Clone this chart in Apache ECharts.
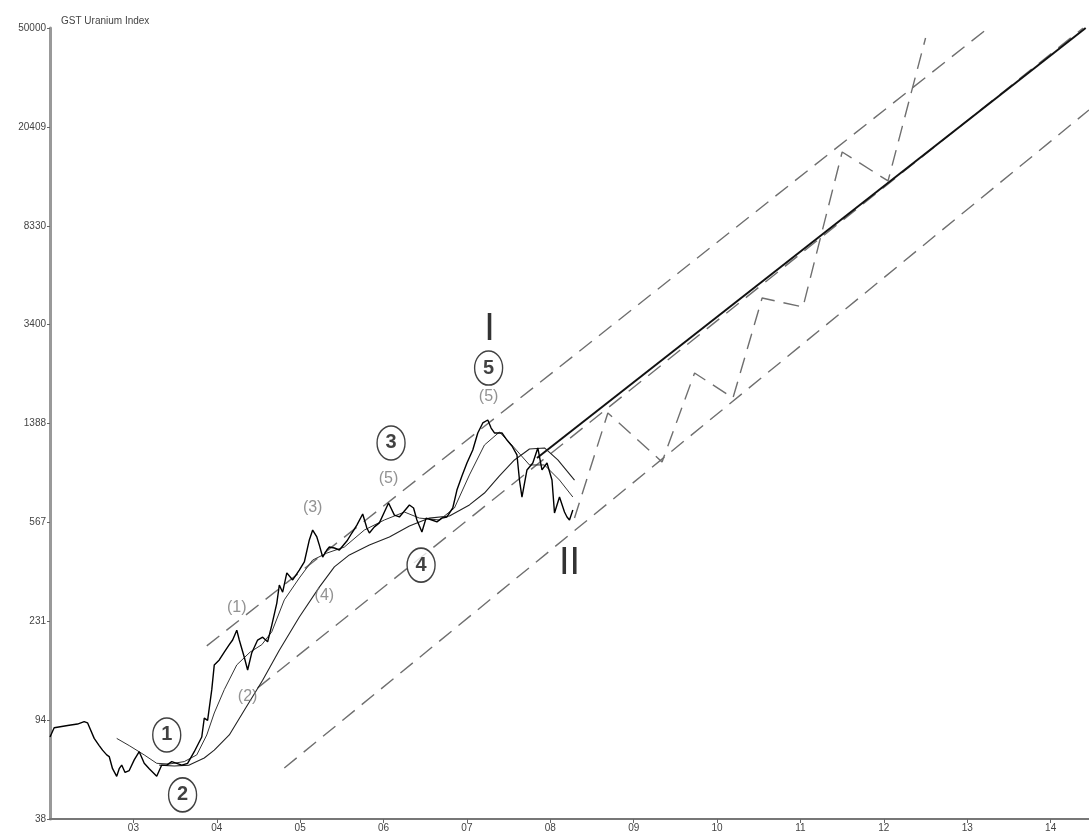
<!DOCTYPE html>
<html>
<head>
<meta charset="utf-8">
<title>GST Uranium Index</title>
<script src="https://cdn.jsdelivr.net/npm/echarts@6/dist/echarts.min.js"></script>
<style>
html, body { margin: 0; padding: 0; background: #fff; }
#chart { width: 1089px; height: 839px; }
</style>
</head>
<body>
<div id="chart"></div>
<script>
// y axis: log scale in 8 equal ratio steps, labels as printed
const yTickLabels = ['38', '94', '231', '567', '1388', '3400', '8330', '20409', '50000'];
const xTickYears = [2003, 2004, 2005, 2006, 2007, 2008, 2009, 2010, 2011, 2012, 2013, 2014];

// weekly index (year, value)
const priceData = [
    [2002.00, 80], [2002.05, 87], [2002.14, 88], [2002.23, 89], [2002.33, 90], [2002.41, 92],
    [2002.45, 91], [2002.53, 79], [2002.59, 74], [2002.63, 71], [2002.68, 68], [2002.71, 67],
    [2002.75, 60], [2002.80, 56], [2002.83, 60], [2002.86, 62], [2002.90, 58], [2002.95, 59],
    [2003.01, 65], [2003.07, 70], [2003.13, 63], [2003.19, 60], [2003.28, 56], [2003.34, 62],
    [2003.40, 62], [2003.46, 64], [2003.52, 63], [2003.58, 62], [2003.65, 63], [2003.73, 70],
    [2003.82, 80], [2003.85, 95], [2003.89, 93], [2003.94, 123], [2003.97, 154], [2004.03, 161],
    [2004.09, 173], [2004.15, 185], [2004.19, 193], [2004.24, 211], [2004.27, 193], [2004.33, 165],
    [2004.37, 147], [2004.42, 172], [2004.49, 193], [2004.55, 198], [2004.61, 190], [2004.66, 221],
    [2004.72, 270], [2004.75, 318], [2004.79, 298], [2004.84, 355], [2004.91, 333], [2004.99, 364],
    [2005.05, 392], [2005.11, 479], [2005.15, 524], [2005.20, 492], [2005.23, 457], [2005.27, 410],
    [2005.32, 437], [2005.35, 449], [2005.41, 445], [2005.47, 437], [2005.56, 474], [2005.62, 510],
    [2005.68, 548], [2005.75, 606], [2005.80, 534], [2005.83, 510], [2005.89, 539], [2005.95, 559],
    [2006.01, 617], [2006.06, 670], [2006.13, 600], [2006.19, 590], [2006.24, 617], [2006.31, 658],
    [2006.36, 640], [2006.40, 574], [2006.43, 543], [2006.46, 515], [2006.51, 584], [2006.58, 574],
    [2006.64, 564], [2006.70, 584], [2006.76, 590], [2006.83, 640], [2006.88, 753], [2006.94, 856],
    [2007.00, 963], [2007.07, 1084], [2007.13, 1265], [2007.19, 1385], [2007.25, 1423], [2007.29, 1323],
    [2007.33, 1265], [2007.42, 1265], [2007.48, 1186], [2007.54, 1124], [2007.60, 1036], [2007.63, 825],
    [2007.66, 707], [2007.72, 904], [2007.79, 963], [2007.85, 1104], [2007.90, 904], [2007.96, 963],
    [2008.02, 825], [2008.05, 612], [2008.11, 707], [2008.17, 617], [2008.20, 590], [2008.23, 574],
    [2008.27, 629]
];

// short moving average
const shortMaData = [
    [2002.80, 79], [2002.95, 74], [2003.13, 68], [2003.28, 63], [2003.43, 62.6], [2003.61, 64],
    [2003.76, 68], [2003.88, 81.5], [2003.97, 99.5], [2004.09, 123], [2004.24, 154], [2004.40, 173],
    [2004.54, 185], [2004.66, 208], [2004.81, 278], [2004.99, 339], [2005.15, 399], [2005.32, 425],
    [2005.53, 449], [2005.77, 524], [2006.01, 574], [2006.25, 617], [2006.43, 584], [2006.67, 574],
    [2006.85, 640], [2007.03, 864], [2007.21, 1134], [2007.39, 1276], [2007.57, 1104], [2007.75, 946],
    [2007.93, 946], [2008.11, 825], [2008.27, 707]
];

// long moving average
const longMaData = [
    [2003.31, 62], [2003.49, 61.5], [2003.67, 62], [2003.85, 66.1], [2003.97, 71], [2004.15, 81.5],
    [2004.33, 102], [2004.55, 134], [2004.75, 176], [2004.99, 238], [2005.23, 312], [2005.41, 375],
    [2005.59, 418], [2005.83, 457], [2006.07, 492], [2006.31, 543], [2006.55, 584], [2006.79, 595],
    [2007.03, 658], [2007.21, 733], [2007.39, 856], [2007.57, 990], [2007.75, 1094], [2007.93, 1104],
    [2008.09, 990], [2008.29, 825]
];

// trend channel (dashed) and projected trend (solid)
const upperChannel = [[2003.88, 183], [2013.25, 50000]];
const middleChannel = [[2004.49, 125], [2014.39, 50000]];
const lowerChannel = [[2004.81, 60.4], [2014.46, 23760]];
const trendLine = [[2007.84, 1008], [2014.42, 50000]];

// projected wave path
const projection = [
    [2008.29, 584], [2008.69, 1517], [2009.34, 972], [2009.73, 2181], [2010.19, 1737],
    [2010.54, 4308], [2011.03, 3970], [2011.50, 16220], [2012.05, 12470], [2012.50, 45650]
];

// wave labels: [text, year, value]
const circledLabels = [['1', 2003.40, 81.5], ['2', 2003.59, 47.3], ['3', 2006.09, 1155], ['4', 2006.45, 381], ['5', 2007.26, 2281]];
const waveLabels = [['(1)', 2004.24, 258], ['(2)', 2004.37, 115], ['(3)', 2005.15, 640], ['(4)', 2005.29, 288], ['(5)', 2006.06, 833], ['(5)', 2007.26, 1753]];
const degreeLabels = [['I', 2007.27, 3222], ['II', 2008.23, 388]];

const Y_MIN = 38, Y_MAX = 50000;
const LOG_STEP = Math.log(Y_MAX / Y_MIN) / 8;
function toAxis(v) { return Math.log(v / Y_MIN) / LOG_STEP; }
function toPoints(arr) { return arr.map(p => [p[0], toAxis(p[1])]); }
function toLabels(arr) { return arr.map(a => ({ name: a[0], value: [a[1], toAxis(a[2])] })); }

const FONT = 'Liberation Sans, Arial, sans-serif';
const dashed = { color: '#6f6f6f', width: 1.4, type: [16, 9] };

function lineSeries(data, style, z) {
    return { type: 'line', data: toPoints(data), symbol: 'none', lineStyle: style, z: z, silent: true };
}

const chart = echarts.init(document.getElementById('chart'));
chart.setOption({
    animation: false,
    backgroundColor: '#fff',
    title: {
        text: 'GST Uranium Index', left: 56, top: 11,
        textStyle: { fontSize: 10, fontWeight: 'normal', color: '#444', fontFamily: FONT }
    },
    grid: { left: 50, right: 0, top: 28, bottom: 20 },
    xAxis: {
        type: 'value', min: 2002, max: 2014.46,
        splitLine: { show: false },
        axisLine: { lineStyle: { color: '#777', width: 2 } },
        axisTick: { customValues: xTickYears, length: 4, lineStyle: { color: '#666' } },
        axisLabel: {
            customValues: xTickYears, margin: 4, fontSize: 10, color: '#444', fontFamily: FONT,
            formatter: v => String(Math.round(v)).slice(2)
        }
    },
    yAxis: {
        type: 'value', min: 0, max: 8, interval: 1,
        splitLine: { show: false },
        axisLine: { show: true, lineStyle: { color: '#999', width: 3 } },
        axisTick: { show: true, length: 3, lineStyle: { color: '#666' } },
        axisLabel: {
            margin: 4, fontSize: 10, color: '#444', fontFamily: FONT,
            formatter: v => yTickLabels[Math.round(v)]
        }
    },
    series: [
        lineSeries(upperChannel, dashed, 2),
        lineSeries(middleChannel, dashed, 2),
        lineSeries(lowerChannel, dashed, 2),
        lineSeries(projection, dashed, 2),
        lineSeries(trendLine, { color: '#111', width: 2 }, 3),
        lineSeries(longMaData, { color: '#222', width: 1.1 }, 3),
        lineSeries(shortMaData, { color: '#333', width: 1 }, 3),
        lineSeries(priceData, { color: '#000', width: 1.4 }, 4),
        {
            type: 'scatter', silent: true, z: 6,
            data: toLabels(circledLabels),
            symbol: 'circle', symbolSize: [28, 34],
            itemStyle: { color: '#fff', borderColor: '#111', borderWidth: 1.5 },
            label: {
                show: true, position: 'inside', formatter: '{b}',
                fontSize: 20, fontWeight: 'bold', color: '#111', fontFamily: FONT
            }
        },
        {
            type: 'scatter', silent: true, z: 6,
            data: toLabels(waveLabels),
            symbolSize: 0,
            label: {
                show: true, position: 'inside', formatter: '{b}',
                fontSize: 16, color: '#777', fontFamily: FONT
            }
        },
        {
            type: 'scatter', silent: true, z: 6,
            data: toLabels(degreeLabels),
            symbolSize: 0,
            label: {
                show: true, position: 'inside', formatter: '{b}',
                fontSize: 38, fontWeight: 'normal', color: '#000',
                fontFamily: 'Liberation Sans Narrow, Liberation Sans, sans-serif'
            }
        }
    ]
});

window.addEventListener('resize', function() {
    chart.resize();
});
</script>
</body>
</html>
